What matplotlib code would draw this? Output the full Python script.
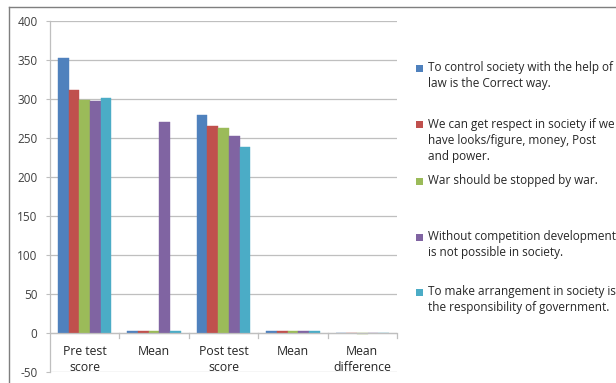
import matplotlib
matplotlib.use("Agg")
import matplotlib.pyplot as plt
import numpy as np
from matplotlib.patches import Rectangle
from matplotlib.lines import Line2D

categories = ["Pre test\nscore", "Mean", "Post test\nscore", "Mean", "Mean\ndifference"]

series_names = [
    "To control society with the help of\nlaw is the Correct way.",
    "We can get respect in society if we\nhave looks/figure, money, Post\nand power.",
    "War should be stopped by war.",
    "Without competition development\nis not possible in society.",
    "To make arrangement in society is\nthe responsibility of government.",
]

law_correct = [352, 3.0, 280, 2.3, 0.0]
respect = [311, 3.0, 265, 2.3, 0.0]
war = [299, 3.0, 263, 2.8, -1.2]
competition = [297, 270, 253, 2.2, 0.0]
arrangement = [301, 3.0, 238, 2.2, 0.0]

series = [law_correct, respect, war, competition, arrangement]
colors = ["#4F81BD", "#C0504D", "#9BBB59", "#8064A2", "#4BACC6"]

yticks = [-50, 0, 50, 100, 150, 200, 250, 300, 350, 400]

plt.rcParams["font.family"] = ["Open Sans", "DejaVu Sans"]

W, H = 616, 383
fig = plt.figure(figsize=(W / 100, H / 100), dpi=100)
fig.patch.set_facecolor("white")

# chart frame (top and left edges visible)
fig.add_artist(Line2D([9 / W, 1.0], [1 - 7 / H, 1 - 7 / H], transform=fig.transFigure,
                      color="#7f7f7f", lw=1.0))
fig.add_artist(Line2D([9 / W, 9 / W], [1 - 7 / H, 0.0], transform=fig.transFigure,
                      color="#7f7f7f", lw=1.0))

left, right, top, bottom = 50, 397, 21, 372
ax = fig.add_axes([left / W, 1 - bottom / H, (right - left) / W, (bottom - top) / H])

n_cat = len(categories)
n_ser = len(series)
gap = 1.5
bw = 1.0 / (n_ser + gap)
x = np.arange(n_cat)
for i, (vals, c) in enumerate(zip(series, colors)):
    offs = -0.5 + gap * bw / 2 + bw * i + bw / 2
    ax.bar(x + offs, vals, width=bw, color=c, edgecolor=c, linewidth=0.3, zorder=3)

ax.set_xlim(-0.5, n_cat - 0.5)
ax.set_ylim(-50, 400)
ax.set_yticks(yticks)
ax.set_yticklabels([str(v) for v in yticks], fontsize=8.5, color="#404040")
ax.yaxis.grid(True, color="#bfbfbf", lw=0.9, zorder=0)
ax.set_xticks([])

for s in ["top", "right", "bottom"]:
    ax.spines[s].set_visible(False)
ax.spines["left"].set_color("#bfbfbf")
ax.spines["left"].set_linewidth(0.9)
ax.tick_params(axis="y", length=3, color="#bfbfbf", pad=6)

# horizontal category axis crossing at zero, with boundary tick marks
ax.axhline(0, color="#bfbfbf", lw=0.9, zorder=4)
for b in np.arange(0.5, n_cat, 1.0):
    ax.plot([b, b], [0, -6], color="#bfbfbf", lw=0.9, clip_on=False, zorder=4)

for xi, lab in zip(x, categories):
    ax.text(xi, -15, lab, ha="center", va="top", fontsize=8.8, color="#262626",
            linespacing=1.3)

# legend drawn as marker + wrapped text blocks
leg_y = [68, 125, 181, 237, 292]
for name, c, yy in zip(series_names, colors, leg_y):
    fig.add_artist(Rectangle((416 / W, 1 - (yy + 3.5) / H), 7 / W, 7 / H,
                             transform=fig.transFigure, facecolor=c, edgecolor="none"))
    fig.text(428 / W, 1 - (yy - 7) / H, name, ha="left", va="top", fontsize=8.5,
             color="#262626", linespacing=1.3)

fig.savefig("out.png", dpi=100, facecolor="white")
